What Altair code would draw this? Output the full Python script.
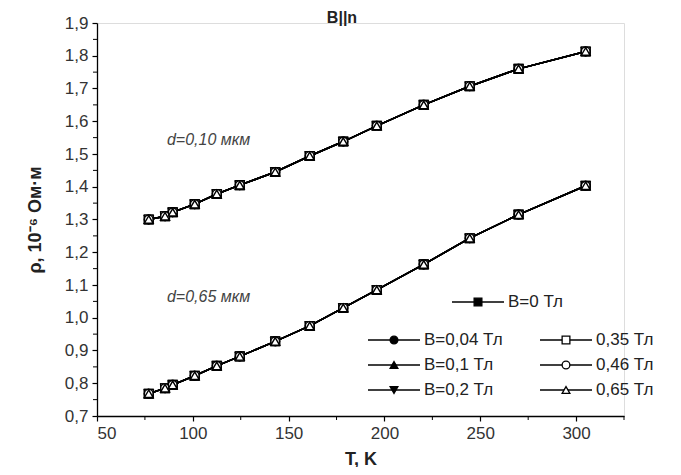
import altair as alt
import pandas as pd

# ---- data ----
T = [77, 85.5, 89.5, 101, 112.5, 124.5, 143, 161, 178.5, 196, 220.5, 244.5, 270, 305]
rho_010 = [1.300, 1.310, 1.322, 1.347, 1.378, 1.405, 1.445, 1.494, 1.538, 1.586, 1.650, 1.707, 1.760, 1.813]
rho_065 = [0.768, 0.785, 0.795, 0.823, 0.853, 0.882, 0.928, 0.975, 1.030, 1.085, 1.163, 1.243, 1.315, 1.403]

series = ["B=0 Тл", "B=0,04 Тл", "B=0,1 Тл", "B=0,2 Тл", "0,35 Тл", "0,46 Тл", "0,65 Тл"]
shapes = ["square", "circle", "triangle-up", "triangle-down", "square", "circle", "triangle-up"]
fills = ["black", "black", "black", "black", "white", "white", "white"]

films = ["d=0,10 мкм", "d=0,65 мкм"]
film_label_T = [86.5, 86.5]
film_label_rho = [1.544, 1.062]

x_major = [50, 100, 150, 200, 250, 300]
x_minor = [75, 125, 175, 225, 275, 325]
y_major = [0.7, 0.8, 0.9, 1.0, 1.1, 1.2, 1.3, 1.4, 1.5, 1.6, 1.7, 1.8, 1.9]
y_minor = [0.75, 0.85, 0.95, 1.05, 1.15, 1.25, 1.35, 1.45, 1.55, 1.65, 1.75, 1.85]

rows = []
for s in series:
    for film, vals in zip(films, [rho_010, rho_065]):
        for t, r in zip(T, vals):
            rows.append({"series": s, "film": film, "T": t, "rho": r, "grp": s + film})
df = pd.DataFrame(rows)

FONT = "Liberation Sans"
W, H = 527, 393

xscale = alt.Scale(domain=[50, 325], nice=False, zero=False)
yscale = alt.Scale(domain=[0.7, 1.9], nice=False, zero=False)

xaxis = alt.Axis(values=x_major, title="T, K", grid=False, labelOverlap=False,
                 tickSize=5, tickColor="black", tickWidth=1.2, domainColor="black", domainWidth=1.3,
                 labelFont=FONT, labelFontSize=17, labelColor="#333", labelPadding=4,
                 titleFont=FONT, titleFontSize=18, titleFontWeight="bold", titleColor="#222",
                 titlePadding=9)
yaxis = alt.Axis(values=y_major, labelOverlap=False,
                 labelExpr="replace(format(datum.value, '.1f'), '.', ',')",
                 title="ρ, 10⁻⁶ Ом·м", grid=False,
                 tickSize=5, tickColor="black", tickWidth=1.2, domainColor="black", domainWidth=1.3,
                 labelFont=FONT, labelFontSize=17, labelColor="#333", labelPadding=4,
                 titleFont=FONT, titleFontSize=18, titleFontWeight="bold", titleColor="#222",
                 titlePadding=20)


def X(field="T"):
    return alt.X(f"{field}:Q", scale=xscale, axis=xaxis)


def Y(field="rho"):
    return alt.Y(f"{field}:Q", scale=yscale, axis=yaxis)


lines = alt.Chart(df).mark_line(color="black", strokeWidth=1.5).encode(
    x=X(), y=Y(), detail="grp:N",
)

# minor ticks drawn as short rules
minor_x = alt.Chart(pd.DataFrame({"T": x_minor})).mark_rule(color="black", strokeWidth=1).encode(
    x=X(), y=alt.value(H), y2=alt.value(H + 4))
minor_y = alt.Chart(pd.DataFrame({"rho": y_minor})).mark_rule(color="black", strokeWidth=1).encode(
    y=Y(), x=alt.value(-4), x2=alt.value(0))

point_layers = []
for s, sh, f in zip(series, shapes, fills):
    point_layers.append(
        alt.Chart(df[df.series == s]).mark_point(
            shape=sh, filled=True, fill=f, stroke="black", strokeWidth=1.4, size=75, opacity=1
        ).encode(x=X(), y=Y())
    )

# film annotations
ann = alt.Chart(pd.DataFrame({"T": film_label_T, "rho": film_label_rho, "txt": films})).mark_text(
    align="left", baseline="middle", font=FONT, fontSize=16, fontStyle="italic", color="#444"
).encode(x=X(), y=Y(), text="txt:N")

title = alt.Chart(pd.DataFrame({"t": ["B||n"]})).mark_text(
    font=FONT, fontSize=16, fontWeight="bold", color="#222", baseline="middle"
).encode(x=alt.value(245), y=alt.value(-5), text="t:N")

# custom legend (layout positions in pixels relative to plot area)
leg_x = [381, 297, 297, 297, 469, 469, 469]
leg_y = [279, 317, 342, 367, 317, 342, 367]
legend_layers = []
for s, sh, f, lx, ly in zip(series, shapes, fills, leg_x, leg_y):
    one = pd.DataFrame({"t": [s]})
    legend_layers.append(alt.Chart(one).mark_rule(color="black", strokeWidth=1.3).encode(
        x=alt.value(lx - 26), x2=alt.value(lx + 26), y=alt.value(ly)))
    legend_layers.append(alt.Chart(one).mark_point(
        shape=sh, filled=True, fill=f, stroke="black", strokeWidth=1.3, size=60, opacity=1
    ).encode(x=alt.value(lx), y=alt.value(ly)))
    legend_layers.append(alt.Chart(one).mark_text(
        align="left", baseline="middle", font=FONT, fontSize=17, color="#222"
    ).encode(x=alt.value(lx + 30), y=alt.value(ly), text="t:N"))

chart = alt.layer(lines, minor_x, minor_y, *point_layers, ann, title, *legend_layers).properties(
    width=W, height=H,
    autosize=alt.AutoSizeParams(type="none"),
    padding={"left": 89, "top": 15, "right": 49, "bottom": 51},
).configure_view(stroke=None).configure(background="white")

chart.save("out.html", embed_options={"renderer": "svg", "actions": False})
